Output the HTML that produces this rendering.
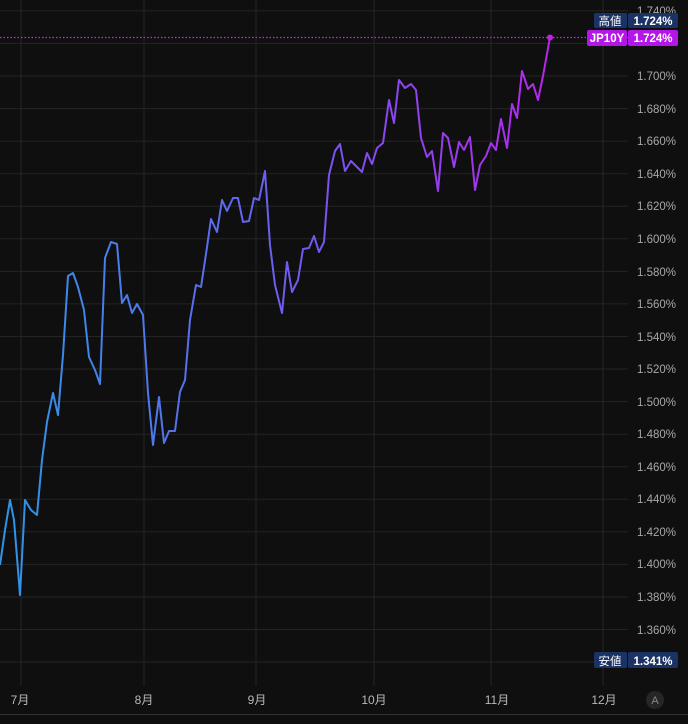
<!DOCTYPE html><html><head><meta charset="utf-8"><style>
body{margin:0;background:#0f0f0f;width:688px;height:724px;overflow:hidden;font-family:"Liberation Sans","Noto Sans CJK JP",sans-serif}
</style></head><body>
<svg width="688" height="724" xmlns="http://www.w3.org/2000/svg" style="position:absolute;left:0;top:0">
<defs><linearGradient id="g" gradientUnits="userSpaceOnUse" x1="0" y1="0" x2="550" y2="0">
<stop offset="0" stop-color="#2f95e6"/><stop offset="0.5" stop-color="#6a5ff0"/><stop offset="1" stop-color="#b526ee"/></linearGradient></defs>
<rect width="688" height="724" fill="#0f0f0f"/>
<g stroke="#242424" stroke-width="1">
<line x1="0" x2="628" y1="10.9" y2="10.9"/><line x1="0" x2="628" y1="43.4" y2="43.4"/><line x1="0" x2="628" y1="76" y2="76"/><line x1="0" x2="628" y1="108.6" y2="108.6"/><line x1="0" x2="628" y1="141.1" y2="141.1"/><line x1="0" x2="628" y1="173.7" y2="173.7"/><line x1="0" x2="628" y1="206.2" y2="206.2"/><line x1="0" x2="628" y1="238.8" y2="238.8"/><line x1="0" x2="628" y1="271.4" y2="271.4"/><line x1="0" x2="628" y1="303.9" y2="303.9"/><line x1="0" x2="628" y1="336.5" y2="336.5"/><line x1="0" x2="628" y1="369" y2="369"/><line x1="0" x2="628" y1="401.6" y2="401.6"/><line x1="0" x2="628" y1="434.2" y2="434.2"/><line x1="0" x2="628" y1="466.7" y2="466.7"/><line x1="0" x2="628" y1="499.3" y2="499.3"/><line x1="0" x2="628" y1="531.8" y2="531.8"/><line x1="0" x2="628" y1="564.4" y2="564.4"/><line x1="0" x2="628" y1="597" y2="597"/><line x1="0" x2="628" y1="629.5" y2="629.5"/><line x1="0" x2="628" y1="662" y2="662"/>
<line x1="21" x2="21" y1="0" y2="686"/><line x1="144" x2="144" y1="0" y2="686"/><line x1="256" x2="256" y1="0" y2="686"/><line x1="374" x2="374" y1="0" y2="686"/><line x1="491" x2="491" y1="0" y2="686"/><line x1="603" x2="603" y1="0" y2="686"/>
</g>
<line x1="0" x2="688" y1="714.5" y2="714.5" stroke="#333"/>
<g fill="#a8a8a8" font-size="11.5" text-anchor="start">
<text x="637" y="15">1.740%</text><text x="637" y="80">1.700%</text><text x="637" y="113">1.680%</text><text x="637" y="145">1.660%</text><text x="637" y="178">1.640%</text><text x="637" y="210">1.620%</text><text x="637" y="243">1.600%</text><text x="637" y="276">1.580%</text><text x="637" y="308">1.560%</text><text x="637" y="341">1.540%</text><text x="637" y="373">1.520%</text><text x="637" y="406">1.500%</text><text x="637" y="438">1.480%</text><text x="637" y="471">1.460%</text><text x="637" y="503">1.440%</text><text x="637" y="536">1.420%</text><text x="637" y="568">1.400%</text><text x="637" y="601">1.380%</text><text x="637" y="634">1.360%</text>
</g>
<g fill="#b8b8b8" font-size="12" text-anchor="middle">
<text x="20" y="704">7月</text><text x="144" y="704">8月</text><text x="257" y="704">9月</text><text x="374" y="704">10月</text><text x="497" y="704">11月</text><text x="604" y="704">12月</text></g>
<circle cx="655" cy="700" r="9" fill="#262626"/><text x="655" y="704" fill="#888" font-size="11" text-anchor="middle">A</text>
<line x1="0" x2="628" y1="37.5" y2="37.5" stroke="#d020f5" stroke-width="1.2" stroke-dasharray="1.5,2"/>
<polyline fill="none" stroke="url(#g)" stroke-width="2" stroke-linejoin="round" points="0,565 5,530 10,500 14,520 20,595 25,500 31,510 37,515 42,460 47,422 53,393 58,415 63,355 68,276 73,273 78,287 84,310 89,357 95,370 100,384 105,258 111,242 117,244 122,303 127,295 132,313 137,304 143,315 148,393 153,445 159,397 164,443 169,431 175,431 180,392 185,380 190,320 196,285 201,287 206,254 211,219 217,232 222,200 227,211 233,198 238,198 243,222 249,221 254,198 259,200 265,171 270,245 275,285 282,313 287,262 292,292 298,280 303,249 309,248 314,236 319,252 324,242 329,175 335,151 340,144 345,171 351,161 356,166 362,172 367,153 372,164 377,148 383,143 389,100 394,123 399,80 405,88 411,84 416,90 421,138 427,157 432,151 438,191 443,133 448,138 454,167 459,142 464,150 470,137 475,190 480,165 486,156 491,143 496,150 501,119 507,148 512,104 517,118 522,71 528,89 533,84 538,100 543,76 550,37"/>
<circle cx="550" cy="37.5" r="3" fill="#c21fe8"/>
<rect x="594" y="13" width="33" height="15" rx="2" fill="#1b3264"/><rect x="628" y="13" width="50" height="15" rx="2" fill="#1b3264"/>
<text x="610" y="25" fill="#fff" font-size="11.5" text-anchor="middle">高値</text><text x="653" y="25" fill="#fff" font-size="11.5" font-weight="bold" text-anchor="middle">1.724%</text>
<rect x="587" y="30" width="40" height="16" rx="2" fill="#b516e8"/><rect x="628" y="30" width="50" height="16" rx="2" fill="#b516e8"/>
<text x="607" y="42" fill="#fff" font-size="11.5" font-weight="bold" text-anchor="middle">JP10Y</text><text x="653" y="42" fill="#fff" font-size="11.5" font-weight="bold" text-anchor="middle">1.724%</text>
<rect x="594" y="652" width="33" height="16" rx="2" fill="#1b3264"/><rect x="628" y="652" width="50" height="16" rx="2" fill="#1b3264"/>
<text x="610" y="665" fill="#fff" font-size="11.5" text-anchor="middle">安値</text><text x="653" y="665" fill="#fff" font-size="11.5" font-weight="bold" text-anchor="middle">1.341%</text>
</svg></body></html>
